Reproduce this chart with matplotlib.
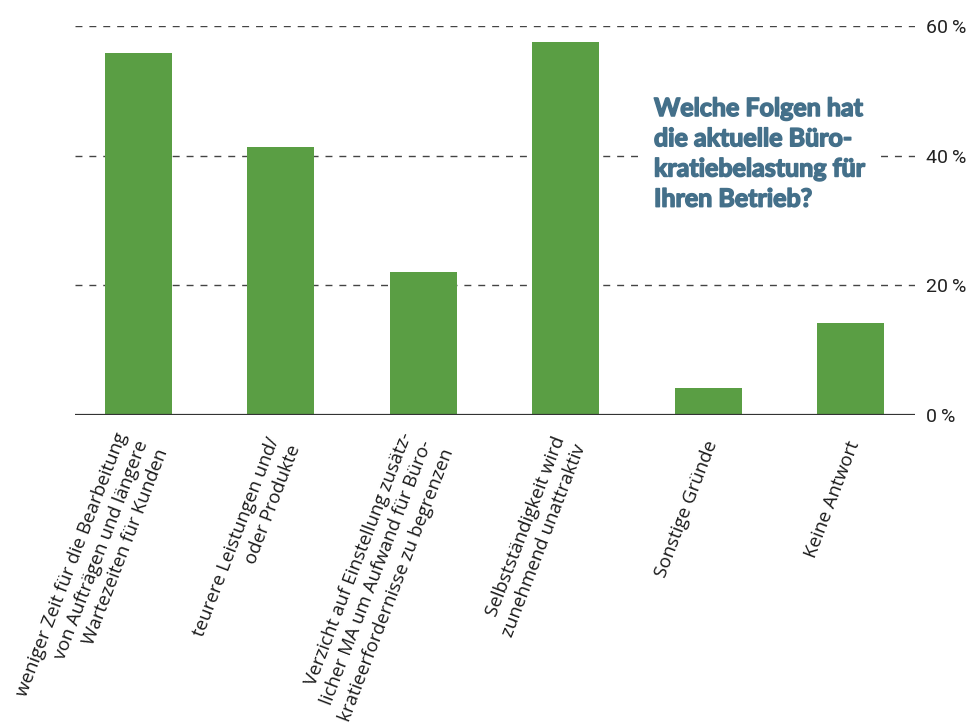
import matplotlib.pyplot as plt
import matplotlib.patheffects as pe

categories = [
    "weniger Zeit für die Bearbeitung\nvon Aufträgen und längere\nWartezeiten für Kunden",
    "teurere Leistungen und/\noder Produkte",
    "Verzicht auf Einstellung zusätz-\nlicher MA um Aufwand für Büro-\nkratieerfordernisse zu begrenzen",
    "Selbstständigkeit wird\nzunehmend unattraktiv",
    "Sonstige Gründe",
    "Keine Antwort",
]
values = [55.8, 41.3, 22.0, 57.5, 4.2, 14.2]
yticks = [0, 20, 40, 60]
ytick_labels = ["0\u2009%", "20\u2009%", "40\u2009%", "60\u2009%"]
title = "Welche Folgen hat\ndie aktuelle Büro-\nkratiebelastung für\nIhren Betrieb?"

green = "#5a9e44"
blue = "#44708a"

fig = plt.figure(figsize=(9.66, 7.27), dpi=100)
ax = fig.add_axes([0.0776, 0.4292, 0.8696, 0.5350])

x = range(len(values))
ax.bar(x, values, width=0.47, color=green, zorder=3)

ax.set_xlim(-0.446, 5.45)
ax.set_ylim(0, 60)

for s in ["top", "left", "right", "bottom"]:
    ax.spines[s].set_visible(False)
ax.axhline(0, color="#333333", lw=1.6, zorder=4)
for v in yticks[1:]:
    ax.axhline(v, color="#444444", lw=1.0, ls=(0, (5, 5)), zorder=1)

ax.yaxis.tick_right()
ax.set_yticks(yticks)
ax.set_yticklabels(ytick_labels, fontsize=14, family="Roboto", color="#222222")
ax.tick_params(axis="y", length=0, pad=8)

ax.set_xticks(list(x))
ax.set_xticklabels([])
ax.tick_params(axis="x", length=0)

for i, lab in enumerate(categories):
    ax.annotate(lab, xy=(i, 0), xycoords="data", xytext=(3, -19),
                textcoords="offset points", rotation=69, rotation_mode="anchor",
                ha="right", va="center", multialignment="right",
                fontsize=13.5, family="Open Sans", color="#1a1a1a",
                linespacing=1.3, annotation_clip=False)

t = fig.text(654 / 966, 1 - 97 / 727, title, ha="left", va="top",
             fontsize=18, fontweight="bold", family=["Lato", "DejaVu Sans"],
             color=blue, linespacing=1.38,
             bbox=dict(facecolor="white", edgecolor="none", pad=11), zorder=5)
t.set_path_effects([pe.withStroke(linewidth=1.1, foreground=blue)])

fig.savefig("out.png", dpi=100)
